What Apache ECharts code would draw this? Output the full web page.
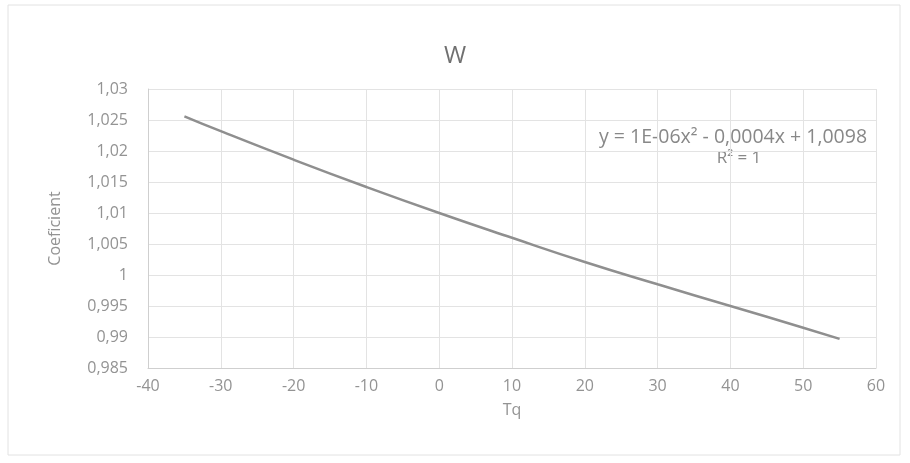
<!DOCTYPE html>
<html>
<head>
<meta charset="utf-8">
<script src="https://cdn.jsdelivr.net/npm/echarts@6/dist/echarts.min.js"></script>
<style>html,body{margin:0;padding:0;background:#fff}#c{width:910px;height:463px}</style>
</head>
<body>
<div id="c"></div>
<script>
const titleText = "W";
const xName = "Tq";
const yName = "Coeficient";
const tq = [-35, -30, -20, -10, 0, 10, 20, 30, 40, 50, 55];
const coef = [1.0256, 1.0232, 1.0186, 1.0142, 1.0100, 1.0060, 1.0021, 0.9985, 0.9950, 0.9915, 0.9897];
const equationLine = "y = 1E-06x² - 0,0004x + 1,0098";
const r2Line = "R² = 1";

const fmt = v => String(+v.toFixed(3)).replace('.', ',');
const txt = '#939393';
const font = 'Open Sans';

const chart = echarts.init(document.getElementById('c'));
chart.setOption({
  animation: false,
  backgroundColor: '#fff',
  title: {
    text: titleText, left: 'center', top: 39,
    textStyle: { color: '#707070', fontSize: 24, fontWeight: 'normal', fontFamily: font }
  },
  graphic: [
    { type: 'rect', shape: { x: 8, y: 5, width: 892, height: 450 },
      style: { fill: 'none', stroke: '#e2e2e2', lineWidth: 1 }, silent: true },
    { type: 'text', x: 733, y: 137, style: { text: equationLine, fill: '#888888', font: '19.5px "Open Sans"', align: 'center', verticalAlign: 'middle' } },
    { type: 'text', x: 739, y: 158, style: { text: r2Line, fill: '#888888', font: '17px "Open Sans"', align: 'center', verticalAlign: 'middle' } }
  ],
  grid: { left: 148, right: 34, top: 89, bottom: 95 },
  xAxis: {
    type: 'value', min: -40, max: 60, interval: 10,
    name: xName, nameLocation: 'middle', nameGap: 34,
    nameTextStyle: { color: txt, fontSize: 16, fontFamily: font },
    axisLine: { show: true, onZero: false, lineStyle: { color: '#cfcfcf' } },
    axisTick: { show: false },
    axisLabel: { color: txt, fontSize: 16, fontFamily: font, margin: 10 },
    splitLine: { show: true, lineStyle: { color: '#e3e3e3' } }
  },
  yAxis: {
    type: 'value', min: 0.985, max: 1.03, interval: 0.005,
    name: yName, nameLocation: 'middle', nameGap: 85, nameRotate: 90,
    nameTextStyle: { color: txt, fontSize: 16, fontFamily: font },
    axisLine: { show: true, onZero: false, lineStyle: { color: '#cfcfcf' } },
    axisTick: { show: false },
    axisLabel: { color: txt, fontSize: 16, fontFamily: font, margin: 20, formatter: fmt },
    splitLine: { show: true, lineStyle: { color: '#e3e3e3' } }
  },
  series: [{
    type: 'line', smooth: true, showSymbol: false,
    data: tq.map((x, i) => [x, coef[i]]),
    lineStyle: { color: '#8f8f8f', width: 2.5 }
  }]
});
</script>
</body>
</html>
